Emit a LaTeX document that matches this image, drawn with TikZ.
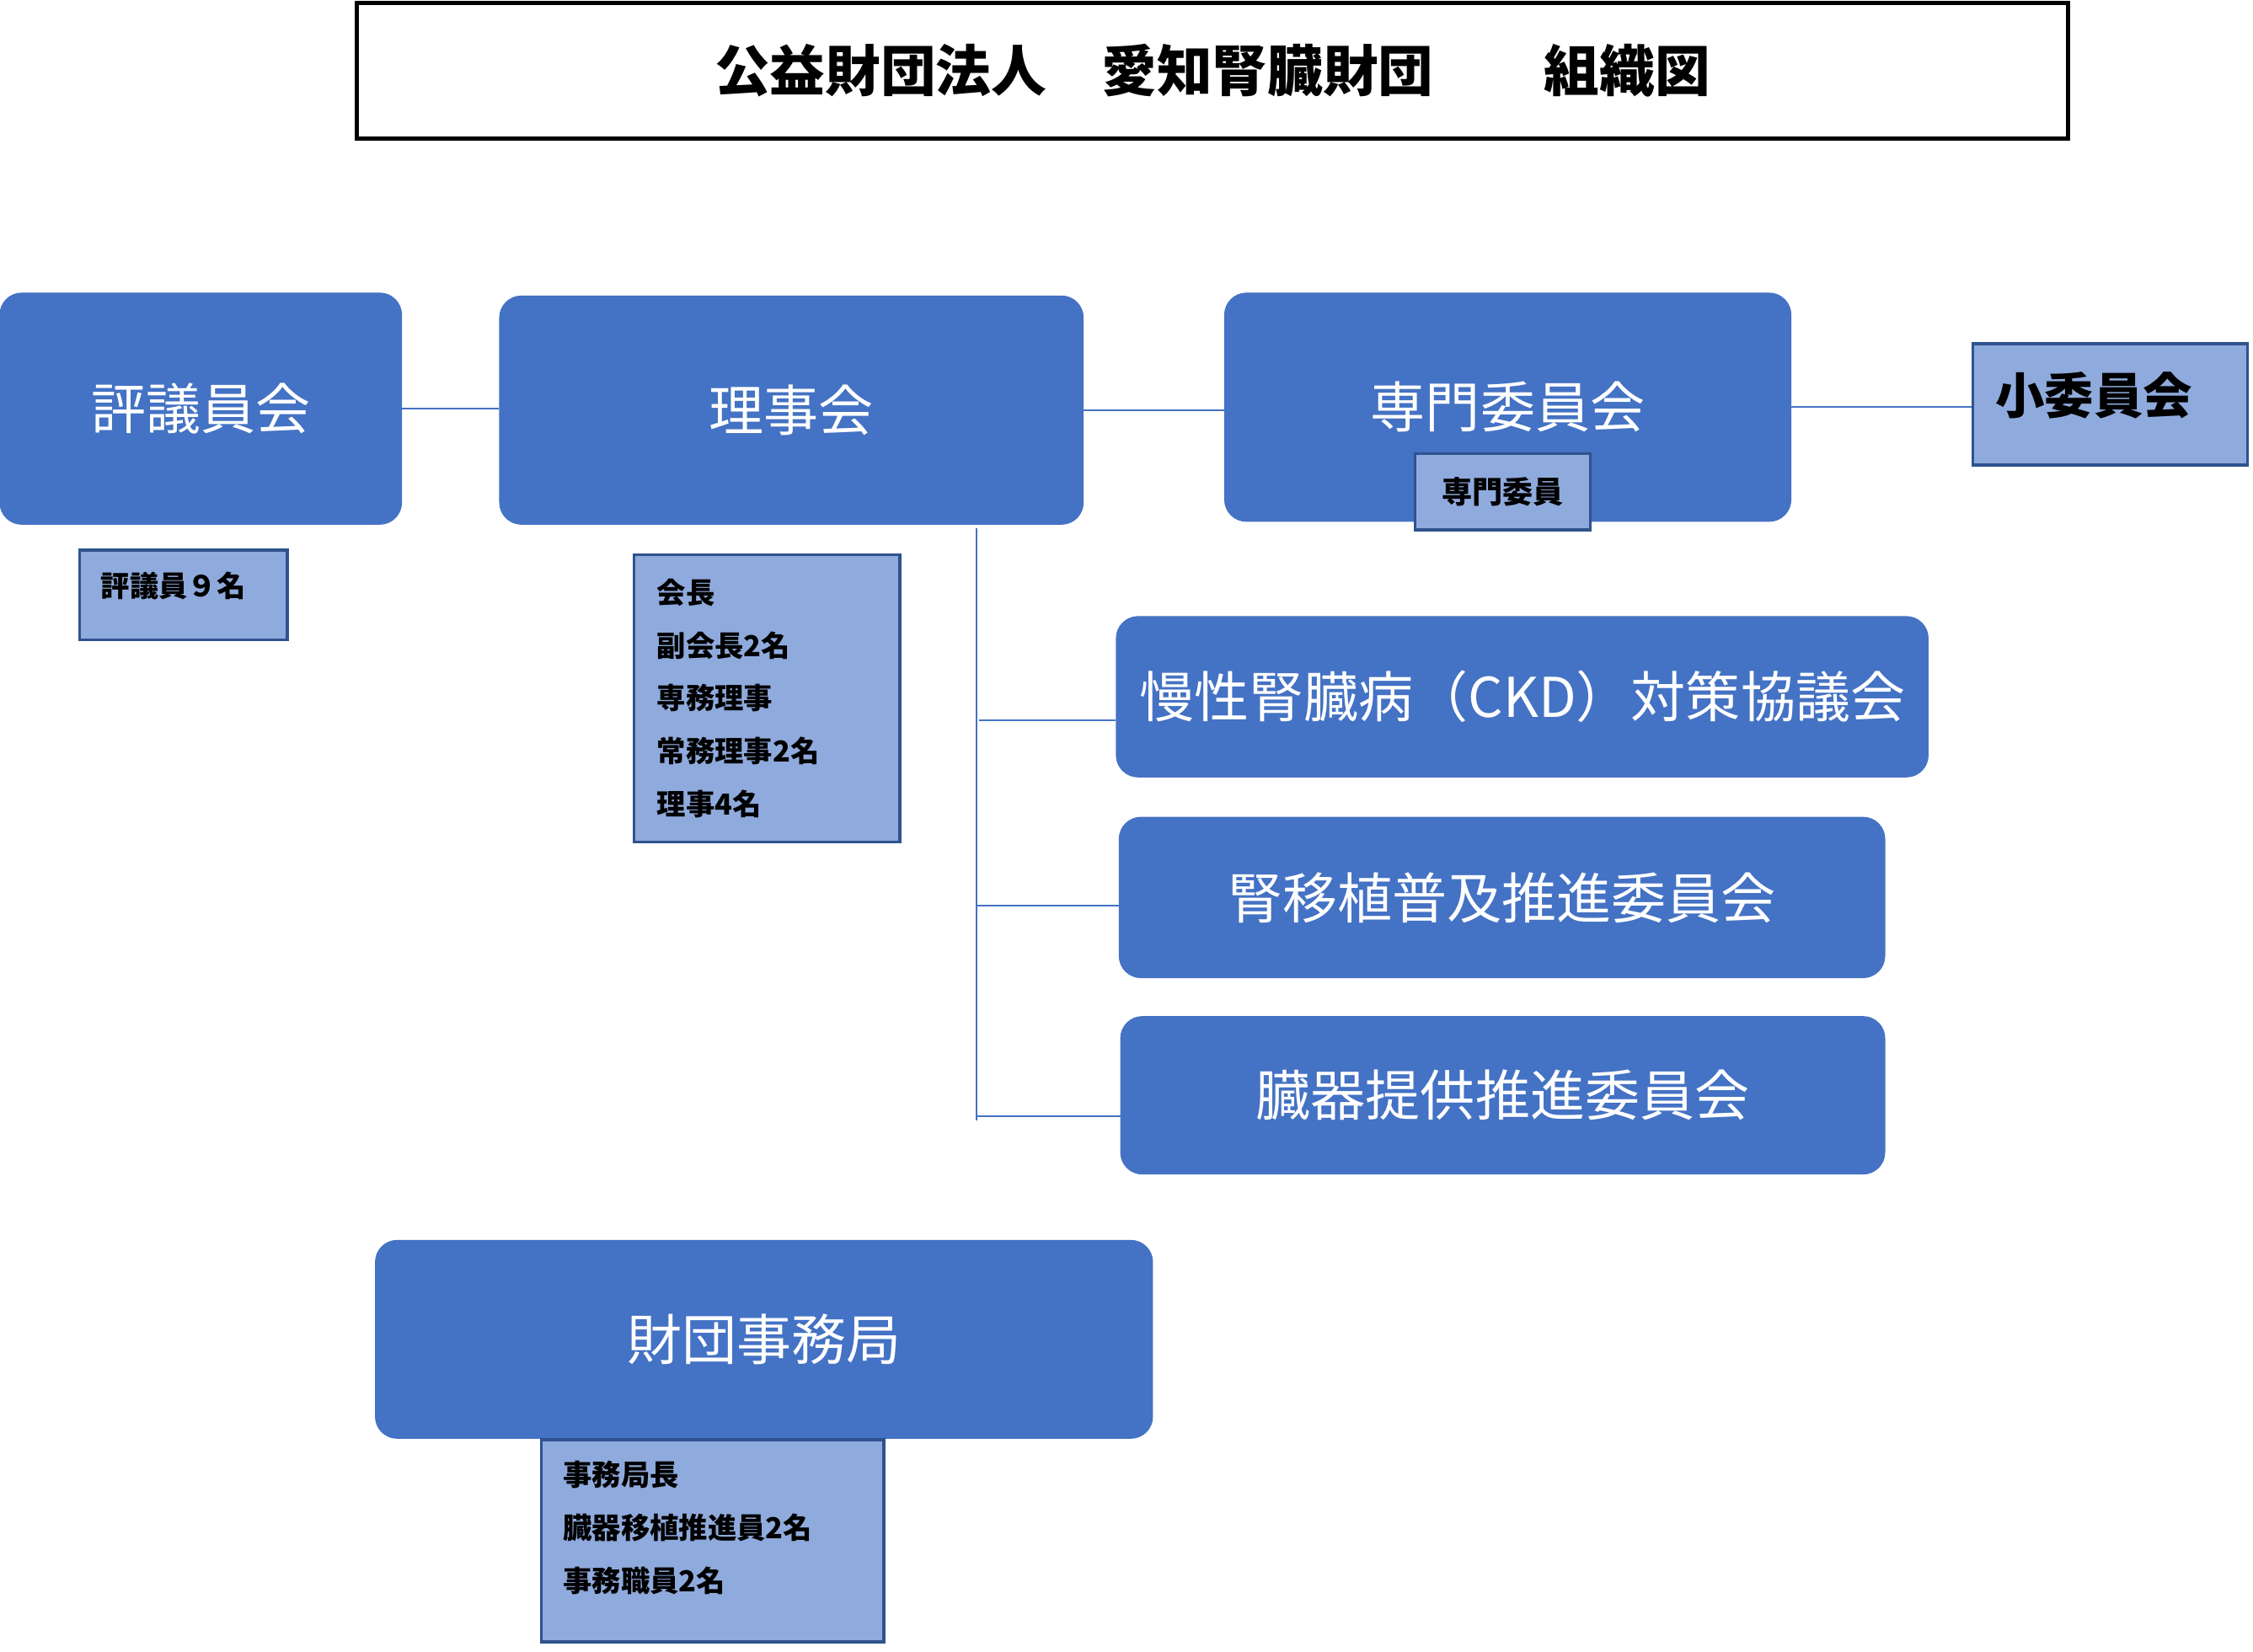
\documentclass[tikz,border=0pt]{standalone}
\usepackage{fontspec}
\setmainfont{Noto Sans CJK JP}
\usetikzlibrary{positioning}

\definecolor{boxblue}{HTML}{4472C4}
\definecolor{paleblue}{HTML}{8FAADC}
\definecolor{edgeblue}{HTML}{2F528F}

\tikzstyle{titlebox} = [rectangle, minimum width=23.7cm, minimum height=1.88cm, draw=black, line width=1.7pt, font=\fontsize{21.8}{24}\selectfont\bfseries]
\tikzstyle{bigbox} = [rectangle, rounded corners=0.3cm, text centered, draw=boxblue, fill=boxblue, text=white, font=\fontsize{21.6}{24}\selectfont]
\tikzstyle{memberbox} = [rectangle, draw=edgeblue, line width=1.1pt, fill=paleblue, text=black, font=\fontsize{11.4}{20.8}\selectfont\bfseries]
\tikzstyle{line} = [draw=boxblue, line width=0.6pt]

\begin{document}
\begin{tikzpicture}
\useasboundingbox (0,0) rectangle (31.2,-22.88);

% title
\node (title) [titlebox] at (16.79,-0.98) {公益財団法人　愛知腎臓財団　　組織図};

% top row
\node (gikai) [bigbox, minimum width=5.56cm, minimum height=3.2cm] at (2.78,-5.66) {評議員会};
\node (riji) [bigbox, minimum width=8.08cm, minimum height=3.16cm] at (10.96,-5.68) {理事会};
\node (senmon) [bigbox, minimum width=7.84cm, minimum height=3.16cm] at (20.88,-5.64) {専門委員会};
\node (shoiin) [memberbox, minimum width=3.8cm, minimum height=1.68cm, text height=0.6cm, text depth=0.32cm, inner xsep=0.05cm, font=\fontsize{19.4}{22}\selectfont\bfseries] at (29.22,-5.6) {小委員会\hspace*{0.45cm}};
\node (senmonin) [memberbox, minimum width=2.42cm, minimum height=1.06cm, font=\fontsize{12}{14}\selectfont\bfseries] at (20.81,-6.81) {専門委員};

% members
\node (giin) [memberbox, minimum width=2.88cm, minimum height=1.24cm, text height=0.35cm, text depth=0.29cm] at (2.54,-8.24) {評議員９名\hspace*{0.28cm}};
\node (yakuin) [memberbox, minimum height=3.98cm, text width=3.04cm, inner xsep=0.32cm, align=left] at (10.62,-9.67) {会長\\副会長2名\\専務理事\\常務理事2名\\理事4名};

% committees
\node (ckd) [bigbox, minimum width=11.24cm, minimum height=2.22cm] at (21.08,-9.65) {慢性腎臓病（CKD）対策協議会};
\node (ishoku) [bigbox, minimum width=10.6cm, minimum height=2.22cm] at (20.80,-12.43) {腎移植普及推進委員会};
\node (teikyo) [bigbox, minimum width=10.58cm, minimum height=2.18cm] at (20.81,-15.17) {臓器提供推進委員会};

% office
\node (jimu) [bigbox, minimum width=10.76cm, minimum height=2.74cm] at (10.58,-18.55) {財団事務局};
\node (staff) [memberbox, minimum height=2.8cm, text width=4.14cm, inner xsep=0.3cm, align=left] at (9.87,-21.34) {事務局長\\臓器移植推進員2名\\事務職員2名\par\vspace*{0.36cm}};

% connectors
\coordinate (trunktop) at (13.52,-7.32);
\coordinate (trunkbot) at (13.52,-15.52);
\coordinate (br1) at (13.56,-9.98);
\coordinate (br2) at (13.54,-12.54);
\coordinate (br3) at (13.52,-15.46);

\draw [line] (gikai.east) -- (gikai.east -| riji.west);
\draw [line] (riji.east) -- (riji.east -| senmon.west);
\draw [line] (senmon.east) -- (senmon.east -| shoiin.west);
\draw [line] (trunktop) -- (trunkbot);
\draw [line] (br1) -- (br1 -| ckd.west);
\draw [line] (br2) -- (br2 -| ishoku.west);
\draw [line] (br3) -- (br3 -| teikyo.west);

\end{tikzpicture}
\end{document}
